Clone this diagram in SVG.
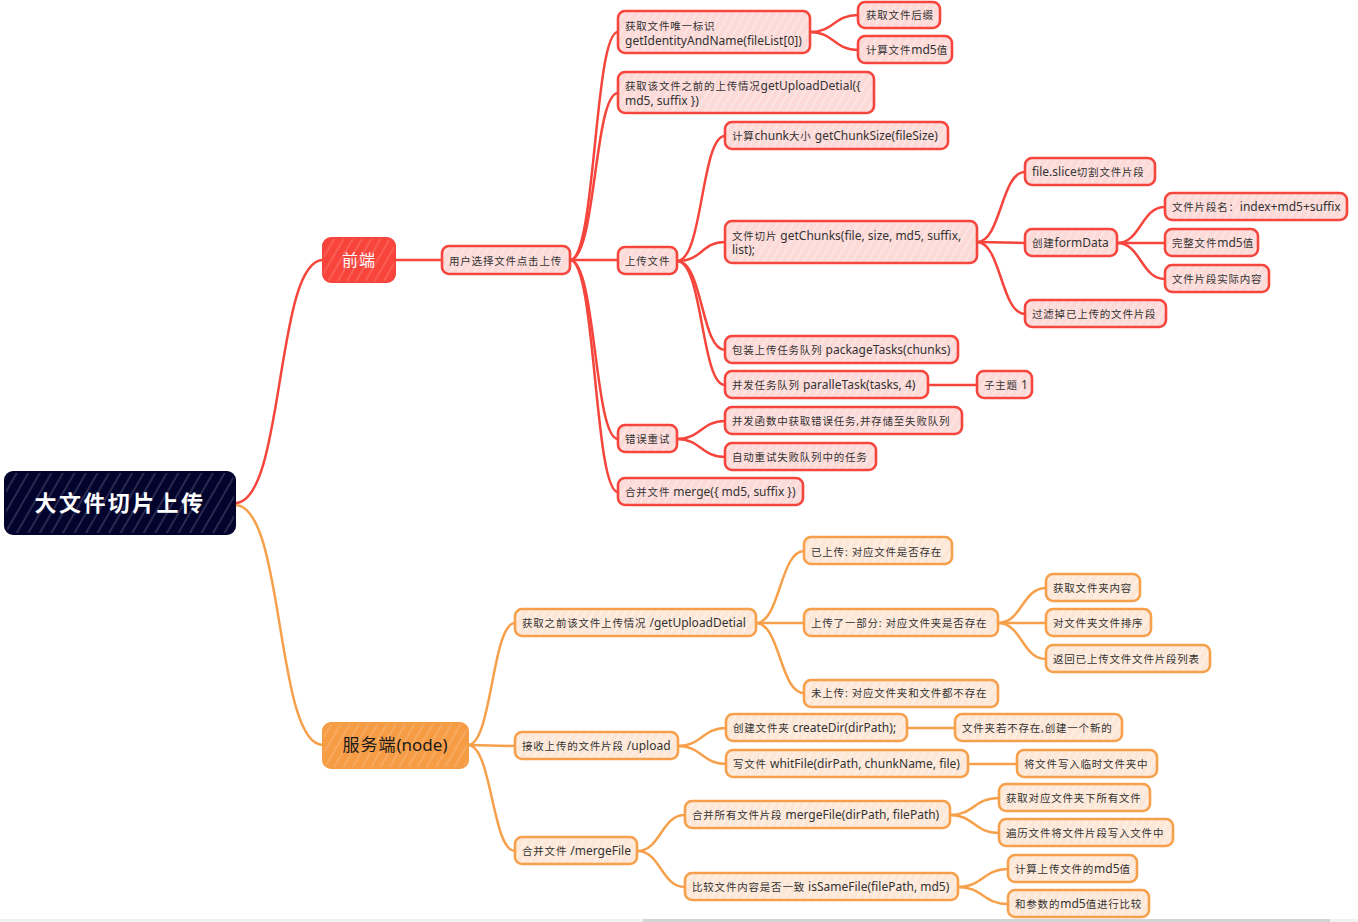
<svg xmlns="http://www.w3.org/2000/svg" width="1358" height="922" viewBox="0 0 1358 922">
<defs>
<pattern id="pNavy" width="10" height="10" patternUnits="userSpaceOnUse" patternTransform="rotate(30)"><rect width="10" height="10" fill="#03042e"/><line x1="1" y1="0" x2="1" y2="10" stroke="#ffffff" stroke-width="0.6" stroke-opacity="0.5"/></pattern>
<pattern id="pRed" width="8" height="8" patternUnits="userSpaceOnUse" patternTransform="rotate(30)"><rect width="8" height="8" fill="#f8443b"/><line x1="1" y1="0" x2="1" y2="8" stroke="#ffffff" stroke-width="0.6" stroke-opacity="0.45"/></pattern>
<pattern id="pOrg" width="8" height="8" patternUnits="userSpaceOnUse" patternTransform="rotate(30)"><rect width="8" height="8" fill="#f69c45"/><line x1="1" y1="0" x2="1" y2="8" stroke="#ffffff" stroke-width="0.6" stroke-opacity="0.45"/></pattern>
<pattern id="pPink" width="7" height="7" patternUnits="userSpaceOnUse" patternTransform="rotate(30)"><rect width="7" height="7" fill="#fcdad8"/><line x1="1" y1="0" x2="1" y2="7" stroke="#ffffff" stroke-width="0.8" stroke-opacity="0.7"/></pattern>
<pattern id="pPeach" width="7" height="7" patternUnits="userSpaceOnUse" patternTransform="rotate(30)"><rect width="7" height="7" fill="#fde8d8"/><line x1="1" y1="0" x2="1" y2="7" stroke="#ffffff" stroke-width="0.8" stroke-opacity="0.7"/></pattern>
</defs>
<style>
text{font-family:"Noto Sans","Noto Sans CJK SC",sans-serif;font-size:12px;fill:#333333}
.k{font-size:10.5px;letter-spacing:0.8px}
.cr{fill:none;stroke:#f5453c;stroke-width:2.5;stroke-linecap:round}
.co{fill:none;stroke:#f7a04c;stroke-width:2.5;stroke-linecap:round}
.nr rect{fill:url(#pPink);stroke:#f5453c;stroke-width:2.6}
.no rect{fill:url(#pPeach);stroke:#f7a04c;stroke-width:2.6}
#root rect{fill:url(#pNavy);stroke:#03042e;stroke-width:2}
#root text{font-size:22px;font-weight:bold;fill:#ffffff;letter-spacing:2.4px}
#fe rect{fill:url(#pRed);stroke:#f5453c;stroke-width:2}
#fe text{font-size:16px;fill:#ffffff;letter-spacing:1px}
#be rect{fill:url(#pOrg);stroke:#f69c45;stroke-width:2}
#be text{font-size:17px;fill:#1a1a1a}
#be .k{font-size:17px;letter-spacing:1px}
</style>
<rect width="1358" height="922" fill="#ffffff"/>
<g id="connectors">
<path class="cr" d="M235,503 C285,503 275,260 323,260"/>
<path class="cr" d="M395,260 L442,260"/>
<path class="cr" d="M570,260 C596,260 594,32 618,32"/>
<path class="cr" d="M570,260 C596,260 594,93 618,93"/>
<path class="cr" d="M570,260 L618,260"/>
<path class="cr" d="M570,260 C596,260 594,439 618,439"/>
<path class="cr" d="M570,260 C596,260 594,492 618,492"/>
<path class="cr" d="M810,32 C834,32 834,15 858,15"/>
<path class="cr" d="M810,32 C834,32 834,50 858,50"/>
<path class="cr" d="M677,261 C703,261 701,136 725,136"/>
<path class="cr" d="M677,261 C703,261 701,242 725,242"/>
<path class="cr" d="M677,261 C703,261 701,350 725,350"/>
<path class="cr" d="M677,261 C703,261 701,385 725,385"/>
<path class="cr" d="M977,242 C1001,242 1001,172 1025,172"/>
<path class="cr" d="M977,242 L1025,243"/>
<path class="cr" d="M977,242 C1001,242 1001,314 1025,314"/>
<path class="cr" d="M1117,243 C1141,243 1141,207 1165,207"/>
<path class="cr" d="M1117,243 L1165,243"/>
<path class="cr" d="M1117,243 C1141,243 1141,279 1165,279"/>
<path class="cr" d="M928,385 L977,385"/>
<path class="cr" d="M677,439 C701,439 701,421 725,421"/>
<path class="cr" d="M677,439 C701,439 701,457 725,457"/>
<path class="co" d="M235,505 C285,505 275,745 323,745"/>
<path class="co" d="M468,745 C492,745 492,623 515,623"/>
<path class="co" d="M468,745 L515,746"/>
<path class="co" d="M468,745 C492,745 492,851 515,851"/>
<path class="co" d="M756,623 C780,623 780,551 804,551"/>
<path class="co" d="M756,623 L804,623"/>
<path class="co" d="M756,623 C780,623 780,693 804,693"/>
<path class="co" d="M998,623 C1022,623 1022,588 1046,588"/>
<path class="co" d="M998,623 L1046,623"/>
<path class="co" d="M998,623 C1022,623 1022,659 1046,659"/>
<path class="co" d="M678,746 C702,746 702,728 726,728"/>
<path class="co" d="M678,746 C702,746 702,764 726,764"/>
<path class="co" d="M907,728 L955,728"/>
<path class="co" d="M968,764 L1017,764"/>
<path class="co" d="M637,851 C661,851 661,815 685,815"/>
<path class="co" d="M637,851 C661,851 661,887 685,887"/>
<path class="co" d="M950,815 C974,815 974,798 999,798"/>
<path class="co" d="M950,815 C974,815 974,833 999,833"/>
<path class="co" d="M958,887 C983,887 983,869 1008,869"/>
<path class="co" d="M958,887 C983,887 983,904 1008,904"/>
</g>
<g id="root"><rect x="5" y="472" width="230" height="62" rx="8"/><text x="120" y="511" text-anchor="middle">大文件切片上传</text></g>
<g id="fe"><rect x="323" y="238" width="72" height="44" rx="8"/><text x="359" y="266" text-anchor="middle">前端</text></g>
<g id="be"><rect x="323" y="723" width="145" height="45" rx="8"/><text x="395" y="751" text-anchor="middle"><tspan class="k">服务端</tspan>(node)</text></g>
<g id="n1" class="nr"><rect x="442" y="246" width="128" height="28" rx="7"/><text x="449" y="265"><tspan class="k">用户选择文件点击上传</tspan></text></g>
<g id="n2" class="nr"><rect x="618" y="11" width="192" height="42" rx="7"/><text x="625" y="30"><tspan class="k">获取文件唯一标识</tspan></text><text x="625" y="45">getIdentityAndName(fileList[0])</text></g>
<g id="n3" class="nr"><rect x="858" y="2" width="82" height="26" rx="7"/><text x="866" y="19"><tspan class="k">获取文件后缀</tspan></text></g>
<g id="n4" class="nr"><rect x="858" y="36" width="94" height="27" rx="7"/><text x="866" y="54"><tspan class="k">计算文件</tspan>md5<tspan class="k">值</tspan></text></g>
<g id="n5" class="nr"><rect x="618" y="72" width="256" height="41" rx="7"/><text x="625" y="90"><tspan class="k">获取该文件之前的上传情况</tspan>getUploadDetial({</text><text x="625" y="105">md5, suffix })</text></g>
<g id="n6" class="nr"><rect x="618" y="247" width="59" height="27" rx="7"/><text x="625" y="265"><tspan class="k">上传文件</tspan></text></g>
<g id="n7" class="nr"><rect x="725" y="122" width="223" height="27" rx="7"/><text x="732" y="140"><tspan class="k">计算</tspan>chunk<tspan class="k">大小</tspan> getChunkSize(fileSize)</text></g>
<g id="n8" class="nr"><rect x="725" y="221" width="252" height="42" rx="7"/><text x="732" y="240"><tspan class="k">文件切片</tspan> getChunks(file, size, md5, suffix,</text><text x="732" y="254">list);</text></g>
<g id="n9" class="nr"><rect x="1025" y="158" width="130" height="27" rx="7"/><text x="1032" y="176">file.slice<tspan class="k">切割文件片段</tspan></text></g>
<g id="n10" class="nr"><rect x="1025" y="229" width="92" height="27" rx="7"/><text x="1032" y="247"><tspan class="k">创建</tspan>formData</text></g>
<g id="n11" class="nr"><rect x="1165" y="193" width="182" height="27" rx="7"/><text x="1172" y="211"><tspan class="k">文件片段名：</tspan>index+md5+suffix</text></g>
<g id="n12" class="nr"><rect x="1165" y="229" width="93" height="27" rx="7"/><text x="1172" y="247"><tspan class="k">完整文件</tspan>md5<tspan class="k">值</tspan></text></g>
<g id="n13" class="nr"><rect x="1165" y="265" width="104" height="27" rx="7"/><text x="1172" y="283"><tspan class="k">文件片段实际内容</tspan></text></g>
<g id="n14" class="nr"><rect x="1025" y="300" width="141" height="27" rx="7"/><text x="1032" y="318"><tspan class="k">过滤掉已上传的文件片段</tspan></text></g>
<g id="n15" class="nr"><rect x="725" y="336" width="233" height="27" rx="7"/><text x="732" y="354"><tspan class="k">包装上传任务队列</tspan> packageTasks(chunks)</text></g>
<g id="n16" class="nr"><rect x="725" y="371" width="203" height="27" rx="7"/><text x="732" y="389"><tspan class="k">并发任务队列</tspan> paralleTask(tasks, 4)</text></g>
<g id="n17" class="nr"><rect x="977" y="371" width="55" height="27" rx="7"/><text x="984" y="389"><tspan class="k">子主题</tspan> 1</text></g>
<g id="n18" class="nr"><rect x="618" y="425" width="59" height="27" rx="7"/><text x="625" y="443"><tspan class="k">错误重试</tspan></text></g>
<g id="n19" class="nr"><rect x="725" y="407" width="237" height="27" rx="7"/><text x="732" y="425"><tspan class="k">并发函数中获取错误任务,并存储至失败队列</tspan></text></g>
<g id="n20" class="nr"><rect x="725" y="443" width="151" height="27" rx="7"/><text x="732" y="461"><tspan class="k">自动重试失败队列中的任务</tspan></text></g>
<g id="n21" class="nr"><rect x="618" y="478" width="185" height="27" rx="7"/><text x="625" y="496"><tspan class="k">合并文件</tspan> merge({ md5, suffix })</text></g>
<g id="o1" class="no"><rect x="515" y="609" width="241" height="27" rx="7"/><text x="522" y="627"><tspan class="k">获取之前该文件上传情况</tspan> /getUploadDetial</text></g>
<g id="o2" class="no"><rect x="804" y="537" width="148" height="27" rx="7"/><text x="811" y="556"><tspan class="k">已上传:</tspan> <tspan class="k">对应文件是否存在</tspan></text></g>
<g id="o3" class="no"><rect x="804" y="609" width="194" height="27" rx="7"/><text x="811" y="627"><tspan class="k">上传了一部分:</tspan> <tspan class="k">对应文件夹是否存在</tspan></text></g>
<g id="o4" class="no"><rect x="1046" y="574" width="94" height="27" rx="7"/><text x="1053" y="592"><tspan class="k">获取文件夹内容</tspan></text></g>
<g id="o5" class="no"><rect x="1046" y="609" width="105" height="27" rx="7"/><text x="1053" y="627"><tspan class="k">对文件夹文件排序</tspan></text></g>
<g id="o6" class="no"><rect x="1046" y="645" width="164" height="27" rx="7"/><text x="1053" y="663"><tspan class="k">返回已上传文件文件片段列表</tspan></text></g>
<g id="o7" class="no"><rect x="804" y="680" width="194" height="27" rx="7"/><text x="811" y="697"><tspan class="k">未上传:</tspan> <tspan class="k">对应文件夹和文件都不存在</tspan></text></g>
<g id="o8" class="no"><rect x="515" y="732" width="163" height="27" rx="7"/><text x="522" y="750"><tspan class="k">接收上传的文件片段</tspan> /upload</text></g>
<g id="o9" class="no"><rect x="726" y="714" width="181" height="27" rx="7"/><text x="733" y="732"><tspan class="k">创建文件夹</tspan> createDir(dirPath);</text></g>
<g id="o10" class="no"><rect x="955" y="714" width="167" height="27" rx="7"/><text x="962" y="732"><tspan class="k">文件夹若不存在,创建一个新的</tspan></text></g>
<g id="o11" class="no"><rect x="726" y="750" width="242" height="27" rx="7"/><text x="733" y="768"><tspan class="k">写文件</tspan> whitFile(dirPath, chunkName, file)</text></g>
<g id="o12" class="no"><rect x="1017" y="750" width="140" height="27" rx="7"/><text x="1024" y="768"><tspan class="k">将文件写入临时文件夹中</tspan></text></g>
<g id="o13" class="no"><rect x="515" y="837" width="122" height="27" rx="7"/><text x="522" y="855"><tspan class="k">合并文件</tspan> /mergeFile</text></g>
<g id="o14" class="no"><rect x="685" y="801" width="265" height="27" rx="7"/><text x="692" y="819"><tspan class="k">合并所有文件片段</tspan> mergeFile(dirPath, filePath)</text></g>
<g id="o15" class="no"><rect x="999" y="784" width="151" height="27" rx="7"/><text x="1006" y="802"><tspan class="k">获取对应文件夹下所有文件</tspan></text></g>
<g id="o16" class="no"><rect x="999" y="819" width="174" height="27" rx="7"/><text x="1006" y="837"><tspan class="k">遍历文件将文件片段写入文件中</tspan></text></g>
<g id="o17" class="no"><rect x="685" y="873" width="273" height="27" rx="7"/><text x="692" y="891"><tspan class="k">比较文件内容是否一致</tspan> isSameFile(filePath, md5)</text></g>
<g id="o18" class="no"><rect x="1008" y="855" width="129" height="27" rx="7"/><text x="1015" y="873"><tspan class="k">计算上传文件的</tspan>md5<tspan class="k">值</tspan></text></g>
<g id="o19" class="no"><rect x="1008" y="890" width="141" height="27" rx="7"/><text x="1015" y="908"><tspan class="k">和参数的</tspan>md5<tspan class="k">值进行比较</tspan></text></g>
<rect x="0" y="919" width="1358" height="3" fill="#f0f0f0"/>
<rect x="643" y="919" width="687" height="3" fill="#d4d4d4"/>
</svg>
